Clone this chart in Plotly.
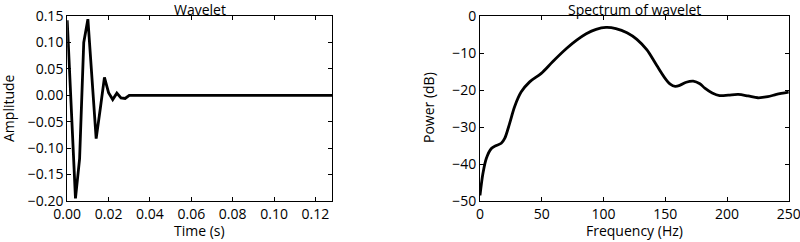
import plotly.graph_objects as go

# Wavelet (time in s, amplitude)
time_s = [0.000, 0.002, 0.004, 0.006, 0.008, 0.010, 0.012, 0.014, 0.016, 0.018,
          0.020, 0.022, 0.024, 0.026, 0.028, 0.030, 0.032, 0.034, 0.036, 0.038,
          0.040, 0.042, 0.044, 0.046, 0.048, 0.050, 0.052, 0.054, 0.056, 0.058,
          0.060, 0.062, 0.064, 0.066, 0.068, 0.070, 0.072, 0.074, 0.076, 0.078,
          0.080, 0.082, 0.084, 0.086, 0.088, 0.090, 0.092, 0.094, 0.096, 0.098,
          0.100, 0.102, 0.104, 0.106, 0.108, 0.110, 0.112, 0.114, 0.116, 0.118,
          0.120, 0.122, 0.124, 0.126, 0.128]
amplitude = [0.142, -0.03, -0.195, -0.12, 0.10, 0.144, 0.03, -0.082, -0.025, 0.034,
             0.005, -0.008, 0.004, -0.005, -0.006, 0.0, 0.0, 0.0, 0.0, 0.0,
             0.0, 0.0, 0.0, 0.0, 0.0, 0.0, 0.0, 0.0, 0.0, 0.0,
             0.0, 0.0, 0.0, 0.0, 0.0, 0.0, 0.0, 0.0, 0.0, 0.0,
             0.0, 0.0, 0.0, 0.0, 0.0, 0.0, 0.0, 0.0, 0.0, 0.0,
             0.0, 0.0, 0.0, 0.0, 0.0, 0.0, 0.0, 0.0, 0.0, 0.0,
             0.0, 0.0, 0.0, 0.0, 0.0]

# Spectrum (frequency in Hz, power in dB)
freq_hz = [0, 2.4, 5.1, 9.2, 13.2, 17.2, 20, 24, 28, 33.4, 40.2, 49.6, 59, 70,
           78, 86, 94, 102, 110, 119, 127, 135, 143, 150, 154, 158, 162, 167, 172.6,
           178, 182, 188, 194, 201, 209, 217, 225, 233, 240, 250]
power_db = [-48.5, -42.5, -38.5, -35.8, -35.0, -34.4, -33.1, -29.0, -24.5, -20.5,
            -17.8, -15.5, -12.3, -8.8, -6.6, -4.8, -3.6, -3.1, -3.4, -4.5, -6.3,
            -9.1, -13.3, -16.9, -18.4, -19.0, -18.7, -17.9, -17.6, -18.3, -19.5,
            -20.8, -21.5, -21.4, -21.2, -21.6, -22.1, -21.8, -21.2, -20.6]

FONT = "Open Sans"
FS = 14
fig = go.Figure()
fig.add_trace(go.Scatter(x=time_s, y=amplitude, mode="lines",
                         line=dict(color="black", width=2.8), xaxis="x", yaxis="y"))
fig.add_trace(go.Scatter(x=freq_hz, y=power_db, mode="lines",
                         line=dict(color="black", width=2.8, shape="spline", smoothing=0.9),
                         xaxis="x2", yaxis="y2"))

axis_common = dict(showline=True, linecolor="black", linewidth=1, mirror="allticks",
                   ticks="inside", ticklen=4, tickcolor="black", showgrid=False,
                   zeroline=False, ticklabeloverflow="allow",
                   tickfont=dict(family=FONT, size=FS, color="black"))

def py(px):
    return 1 - px / 242

fig.update_layout(
    width=800, height=242,
    margin=dict(l=0, r=0, t=0, b=0, autoexpand=False),
    paper_bgcolor="white", plot_bgcolor="white",
    showlegend=False,
    font=dict(family=FONT, size=FS, color="black"),
    xaxis=dict(domain=[0.084, 0.415], range=[0, 0.128],
               tickvals=[0, 0.02, 0.04, 0.06, 0.08, 0.10, 0.12],
               ticktext=["0.00", "0.02", "0.04", "0.06", "0.08", "0.10", "0.12"],
               anchor="y", **axis_common),
    yaxis=dict(domain=[py(201), py(16)], range=[-0.20, 0.15],
               tickvals=[-0.20, -0.15, -0.10, -0.05, 0, 0.05, 0.10, 0.15],
               ticktext=["\u22120.20", "\u22120.15", "\u22120.10", "\u22120.05",
                         "0.00", "0.05", "0.10", "0.15"],
               anchor="x", **axis_common),
    xaxis2=dict(domain=[0.6, 0.986], range=[0, 250],
                tickvals=[0, 50, 100, 150, 200, 250],
                anchor="y2", **axis_common),
    yaxis2=dict(domain=[py(201), py(16)], range=[-50, 0],
                tickvals=[-50, -40, -30, -20, -10, 0],
                ticktext=["\u221250", "\u221240", "\u221230", "\u221220", "\u221210", "0"],
                anchor="x2", **axis_common),
    annotations=[
        dict(text="Wavelet", x=(67 + 332) / 1600, y=py(9.5), xref="paper", yref="paper",
             xanchor="center", yanchor="middle", showarrow=False,
             font=dict(family=FONT, size=FS)),
        dict(text="Spectrum of wavelet", x=(480 + 789) / 1600, y=py(9.5), xref="paper",
             yref="paper", xanchor="center", yanchor="middle", showarrow=False,
             font=dict(family=FONT, size=FS)),
        dict(text="Time (s)", x=(67 + 332) / 1600, y=py(230), xref="paper", yref="paper",
             xanchor="center", yanchor="middle", showarrow=False,
             font=dict(family=FONT, size=FS)),
        dict(text="Frequency (Hz)", x=(480 + 789) / 1600, y=py(230), xref="paper",
             yref="paper", xanchor="center", yanchor="middle", showarrow=False,
             font=dict(family=FONT, size=FS)),
        dict(text="Amplitude", x=8 / 800, y=py(108), xref="paper", yref="paper",
             textangle=-90, xanchor="center", yanchor="middle", showarrow=False,
             font=dict(family=FONT, size=FS)),
        dict(text="Power (dB)", x=428 / 800, y=py(108), xref="paper", yref="paper",
             textangle=-90, xanchor="center", yanchor="middle", showarrow=False,
             font=dict(family=FONT, size=FS)),
    ],
)

fig.write_html("out.html")
